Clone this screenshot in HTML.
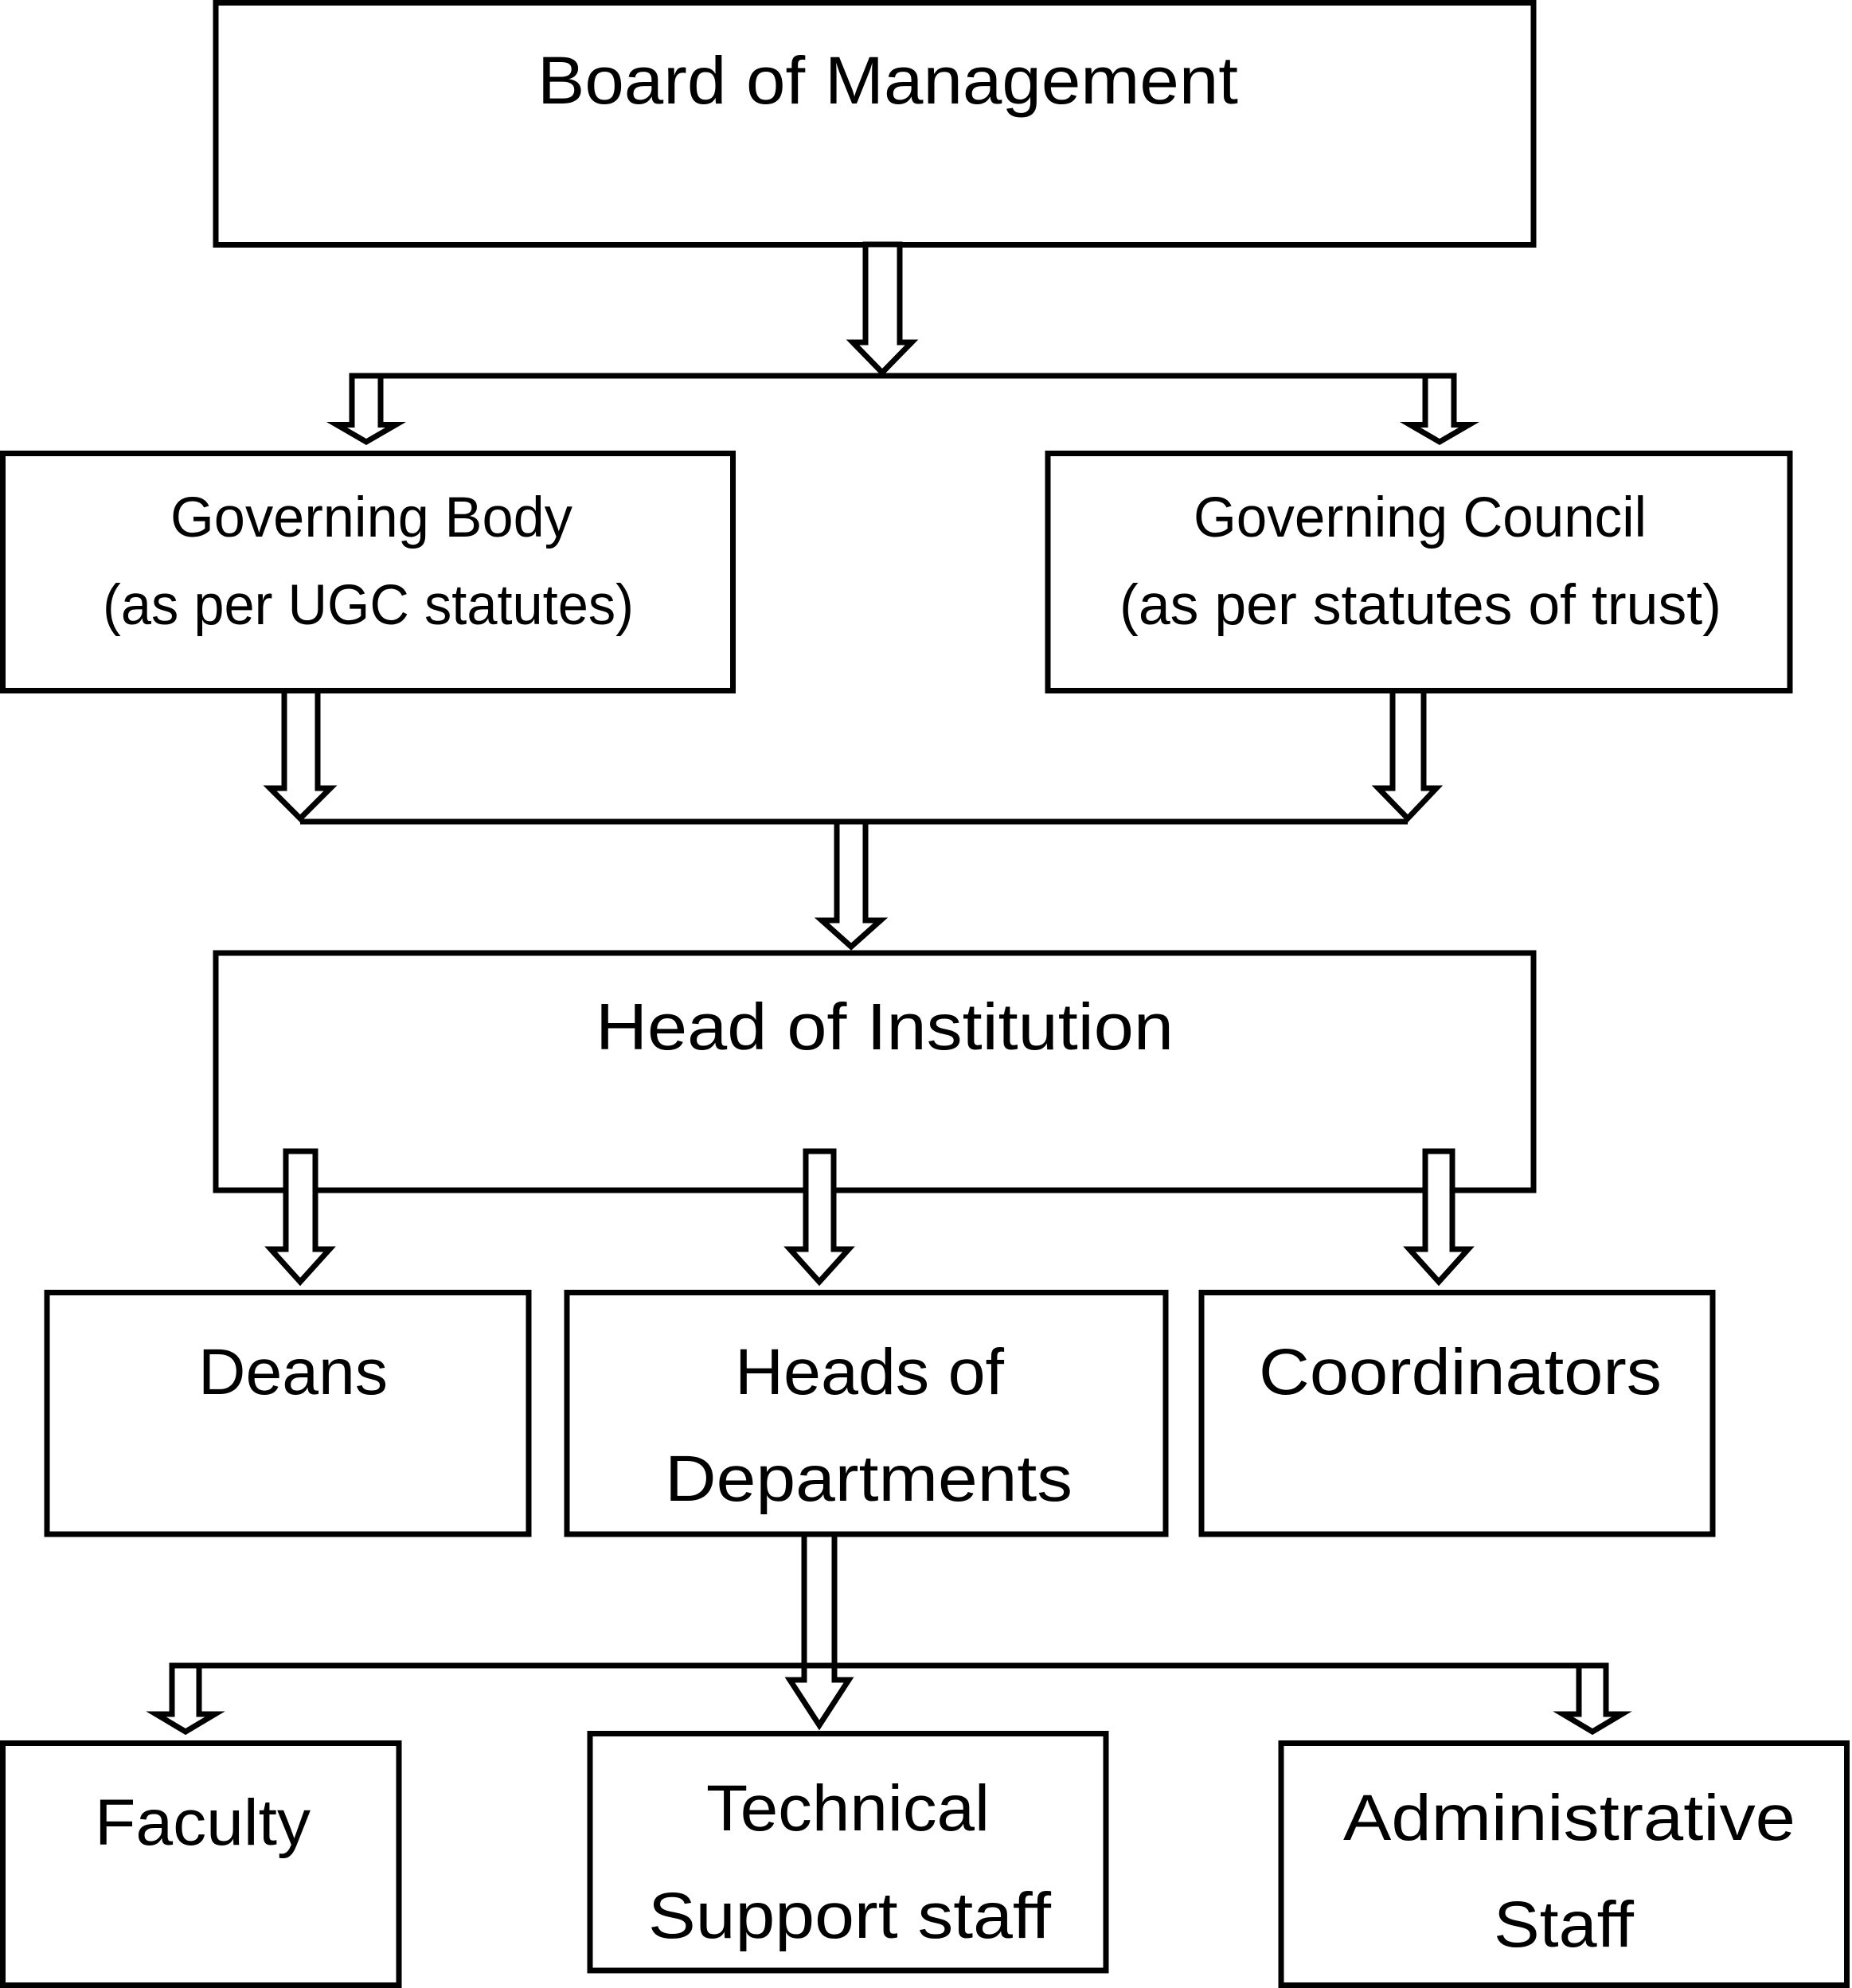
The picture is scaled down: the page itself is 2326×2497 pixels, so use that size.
<!DOCTYPE html>
<html>
<head>
<meta charset="utf-8">
<style>
  html, body { margin: 0; padding: 0; background: #ffffff; }
  svg { display: block; }
  text { font-family: "Liberation Sans", "DejaVu Sans", sans-serif; fill: #000; }
</style>
</head>
<body>
<svg xmlns="http://www.w3.org/2000/svg" width="2326" height="2497" viewBox="0 0 2326 2497">
  <rect x="0" y="0" width="2326" height="2497" fill="#ffffff"/>

  <g fill="#ffffff" stroke="#000000" stroke-width="7" stroke-linejoin="miter" stroke-miterlimit="10">
    <!-- Boxes -->
    <rect x="271" y="3.5" width="1655" height="304"/>
    <rect x="3.5" y="569.5" width="917" height="298"/>
    <rect x="1316" y="569.5" width="932" height="298"/>
    <rect x="271" y="1197" width="1655" height="298"/>
    <rect x="59" y="1623.5" width="605" height="303.5"/>
    <rect x="712" y="1623.5" width="752" height="303.5"/>
    <rect x="1509" y="1623.5" width="642" height="303.5"/>
    <rect x="3.5" y="2189.5" width="497.5" height="304"/>
    <rect x="741" y="2177.5" width="648" height="297.5"/>
    <rect x="1609" y="2189.5" width="710.5" height="304"/>

    <!-- Arrow: Board -> line1 -->
    <polygon points="1087,307 1130,307 1130,430 1145,430 1108,468 1071,430 1087,430"/>
    <!-- Arrow: line1 -> Governing Body -->
    <polygon points="442,472 478,472 478,533.5 497,533.5 460,555 423,533.5 442,533.5"/>
    <!-- Arrow: line1 -> Governing Council -->
    <polygon points="1790,472 1826,472 1826,533.5 1845,533.5 1808,555 1771,533.5 1790,533.5"/>

    <!-- Arrow: GB -> line2 -->
    <polygon points="357,867.5 399,867.5 399,990 415,990 377,1028 339,990 357,990"/>
    <!-- Arrow: GC -> line2 -->
    <polygon points="1749,867.5 1788,867.5 1788,990 1804,990 1768,1028 1731,990 1749,990"/>
    <!-- Arrow: line2 -> Head of Institution -->
    <polygon points="1051,1032 1087,1032 1087,1156 1106,1156 1069,1189 1032,1156 1051,1156"/>

    <!-- Arrows from Head of Institution -->
    <polygon points="359,1446 396,1446 396,1569 414,1569 377,1610 340,1569 359,1569"/>
    <polygon points="1012,1446 1047,1446 1047,1569 1066,1569 1029,1610 992,1569 1012,1569"/>
    <polygon points="1790,1446 1824,1446 1824,1569 1844,1569 1807,1610 1770,1569 1790,1569"/>

    <!-- Arrow: HoD -> Technical -->
    <polygon points="1010,1927 1048,1927 1048,2110 1066,2110 1029,2167 992,2110 1010,2110"/>
    <!-- Arrow: line3 -> Faculty -->
    <polygon points="216,2092 250,2092 250,2153 270,2153 233,2175 196,2153 216,2153"/>
    <!-- Arrow: line3 -> Administrative -->
    <polygon points="1983,2092 2017,2092 2017,2153 2037,2153 2000,2175 1963,2153 1983,2153"/>
  </g>

  <!-- Horizontal connector lines -->
  <g stroke="#000000" stroke-width="7" fill="none">
    <line x1="438.5" y1="472" x2="1829.5" y2="472"/>
    <line x1="377" y1="1032" x2="1768" y2="1032"/>
    <line x1="212.5" y1="2092" x2="2020.5" y2="2092"/>
  </g>

  <!-- Labels -->
  <text x="675" y="130" font-size="84" textLength="880" lengthAdjust="spacingAndGlyphs">Board of Management</text>

  <text x="214" y="674" font-size="71" textLength="505" lengthAdjust="spacingAndGlyphs">Governing Body</text>
  <text x="129" y="784" font-size="71" textLength="667" lengthAdjust="spacingAndGlyphs">(as per UGC statutes)</text>
  <text x="1499" y="674" font-size="71" textLength="569" lengthAdjust="spacingAndGlyphs">Governing Council</text>
  <text x="1406" y="784" font-size="71" textLength="756" lengthAdjust="spacingAndGlyphs">(as per statutes of trust)</text>

  <text x="748" y="1318" font-size="83" textLength="726" lengthAdjust="spacingAndGlyphs">Head of Institution</text>

  <text x="249" y="1751" font-size="82" textLength="238" lengthAdjust="spacingAndGlyphs">Deans</text>
  <text x="923" y="1751" font-size="82" textLength="338" lengthAdjust="spacingAndGlyphs">Heads of</text>
  <text x="835" y="1885" font-size="82" textLength="512" lengthAdjust="spacingAndGlyphs">Departments</text>
  <text x="1581" y="1751" font-size="82" textLength="506" lengthAdjust="spacingAndGlyphs">Coordinators</text>

  <text x="119" y="2317" font-size="82" textLength="271" lengthAdjust="spacingAndGlyphs">Faculty</text>
  <text x="887" y="2299" font-size="82" textLength="356" lengthAdjust="spacingAndGlyphs">Technical</text>
  <text x="814" y="2434" font-size="82" textLength="506" lengthAdjust="spacingAndGlyphs">Support staff</text>
  <text x="1687" y="2311" font-size="82" textLength="568" lengthAdjust="spacingAndGlyphs">Administrative</text>
  <text x="1876" y="2445" font-size="82" textLength="176" lengthAdjust="spacingAndGlyphs">Staff</text>
</svg>
</body>
</html>
